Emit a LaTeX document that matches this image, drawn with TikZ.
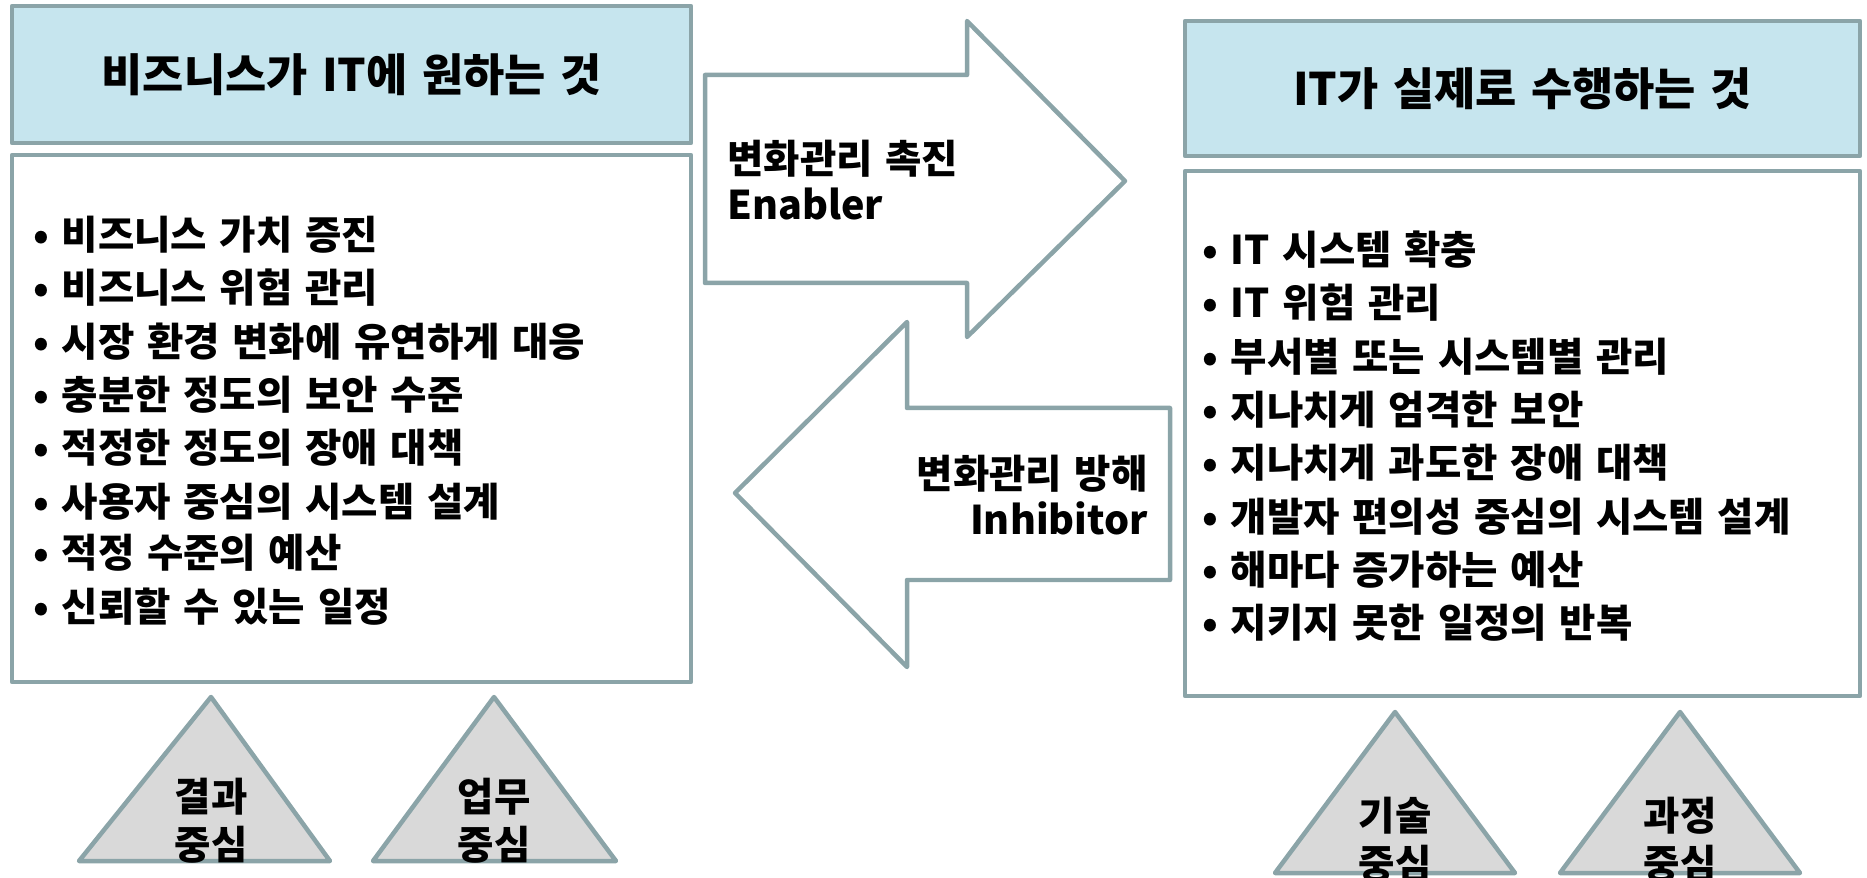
\documentclass[tikz,border=0pt]{standalone}
\usepackage{fontspec}
\setmainfont{Noto Sans CJK KR}[WordSpace=1.4]
\usetikzlibrary{positioning}
\definecolor{rimgray}{HTML}{8BA4A8}
\definecolor{headblue}{HTML}{C6E5EE}
\definecolor{conegray}{HTML}{D9D9D9}

\begin{document}
\begin{tikzpicture}[x=0.02cm,y=-0.02cm,
  rim/.style={draw=rimgray,line width=0.09cm,line join=round},
  headtext/.style={font=\bfseries\fontsize{25.5}{30}\selectfont},
  itemtext/.style={anchor=west,font=\bfseries\fontsize{22.5}{27}\selectfont},
  sidetext/.style={font=\bfseries\fontsize{22.5}{26.5}\selectfont},
  conetext/.style={align=center,font=\bfseries\fontsize{22.5}{27.5}\selectfont}]
\tikzstyle{every node}+=[inner sep=0pt]
\useasboundingbox (0,0) rectangle (1867,878);
\draw [rim,fill=headblue] (12,6) rectangle (691,143);
\draw (351.5,74.5) node [headtext] (wantT) {비즈니스가 IT에 원하는 것};
\draw [rim,fill=white] (12,155) rectangle (691,682);
\draw (33,235) node [itemtext] (w1) {• 비즈니스 가치 증진};
\draw (33,288) node [itemtext] (w2) {• 비즈니스 위험 관리};
\draw (33,342) node [itemtext] (w3) {• 시장 환경 변화에 유연하게 대응};
\draw (33,395) node [itemtext] (w4) {• 충분한 정도의 보안 수준};
\draw (33,448) node [itemtext] (w5) {• 적정한 정도의 장애 대책};
\draw (33,502) node [itemtext] (w6) {• 사용자 중심의 시스템 설계};
\draw (33,553) node [itemtext] (w7) {• 적정 수준의 예산};
\draw (33,607) node [itemtext] (w8) {• 신뢰할 수 있는 일정};
\draw [rim,fill=headblue] (1185,21) rectangle (1860,156);
\draw (1522.5,88.5) node [headtext] (doT) {IT가 실제로 수행하는 것};
\draw [rim,fill=white] (1185,171) rectangle (1860,696);
\draw (1202,250) node [itemtext] (d1) {• IT 시스템 확충};
\draw (1202,303) node [itemtext] (d2) {• IT 위험 관리};
\draw (1202,357) node [itemtext] (d3) {• 부서별 또는 시스템별 관리};
\draw (1202,410) node [itemtext] (d4) {• 지나치게 엄격한 보안};
\draw (1202,463) node [itemtext] (d5) {• 지나치게 과도한 장애 대책};
\draw (1202,517) node [itemtext] (d6) {• 개발자 편의성 중심의 시스템 설계};
\draw (1202,570) node [itemtext] (d7) {• 해마다 증가하는 예산};
\draw (1202,623) node [itemtext] (d8) {• 지키지 못한 일정의 반복};
\draw [rim] (705,75) -- (967,75) -- (967,21) -- (1125,181) -- (967,337) -- (967,283) -- (705,283) -- cycle;
\draw (727,180) node [sidetext,anchor=west,align=left] (enab) {변화관리 촉진\\Enabler};
\draw [rim] (1170,408) -- (907,408) -- (907,322) -- (735,493) -- (907,667) -- (907,580) -- (1170,580) -- cycle;
\draw (1148,495) node [sidetext,anchor=east,align=right] (inhib) {변화관리 방해\\Inhibitor};
\draw [rim,fill=conegray] (211,697) -- (330,861) -- (79,861) -- cycle;
\draw (211,821) node [conetext] (cone1) {결과\\중심};
\draw [rim,fill=conegray] (494,697) -- (616,861) -- (373,861) -- cycle;
\draw (494,821) node [conetext] (cone2) {업무\\중심};
\draw [rim,fill=conegray] (1395,712) -- (1515,873) -- (1275,873) -- cycle;
\draw (1395,840) node [conetext] (cone3) {기술\\중심};
\draw [rim,fill=conegray] (1680,712) -- (1800,873) -- (1560,873) -- cycle;
\draw (1680,840) node [conetext] (cone4) {과정\\중심};
\end{tikzpicture}
\end{document}
